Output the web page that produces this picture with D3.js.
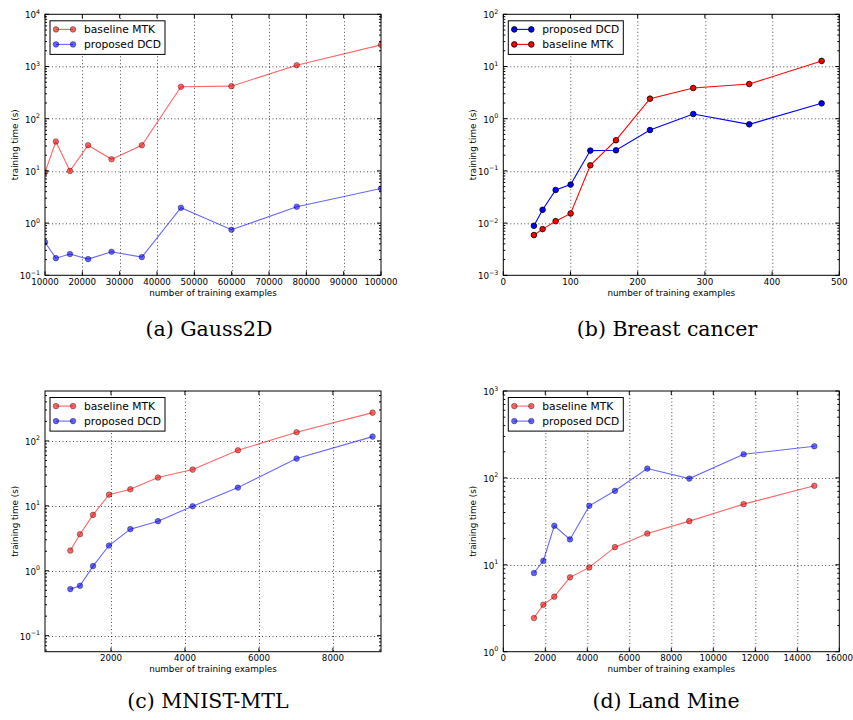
<!DOCTYPE html>
<html>
<head>
<meta charset="utf-8">
<script src="https://cdn.jsdelivr.net/npm/d3@7/dist/d3.min.js"></script>
<style>
  html, body { margin: 0; padding: 0; background: #fff; }
  svg { display: block; }
  text { font-family: "DejaVu Sans", sans-serif; fill: #000; }
  .caption { font-family: "DejaVu Serif", serif; }
</style>
</head>
<body>
<svg id="chart" width="853" height="720"></svg>
<script>
// ---------------- DATA ----------------
const gaussX   = [10000, 12915, 16681, 21544, 27826, 35938, 46416, 59948, 77426, 100000];
const gaussMTK = [9.4, 36.5, 10, 31, 16.7, 31, 410, 420, 1060, 2600];
const gaussDCD = [0.43, 0.213, 0.255, 0.204, 0.282, 0.223, 1.97, 0.745, 2.06, 4.6];

const breastX   = [45.6, 58.5, 77.9, 100.2, 129.5, 167.7, 218.3, 282.7, 366, 473.7];
const breastDCD = [0.0089, 0.018, 0.0432, 0.0547, 0.245, 0.248, 0.607, 1.23, 0.78, 1.97];
const breastMTK = [0.0059, 0.00767, 0.0109, 0.0153, 0.128, 0.387, 2.42, 3.87, 4.61, 12.8];

const mnistX   = [901, 1162, 1514, 1946, 2523, 3270, 4207, 5432, 7018, 9072];
const mnistMTK = [2.05, 3.66, 7.27, 14.9, 18.0, 27.3, 36.2, 71.8, 136, 273];
const mnistDCD = [0.522, 0.588, 1.18, 2.45, 4.38, 5.81, 9.88, 19.1, 53.5, 116.6];

const landX   = [1460, 1905, 2429, 3175, 4095, 5317, 6857, 8857, 11444, 14810];
const landMTK = [2.44, 3.47, 4.30, 7.17, 9.34, 15.97, 22.9, 31.8, 49.9, 81.1];
const landDCD = [8.04, 11.1, 28.1, 19.6, 47.7, 71.0, 128, 98.2, 187, 231];

const gaussXTicks  = [10000, 20000, 30000, 40000, 50000, 60000, 70000, 80000, 90000, 100000];
const breastXTicks = [0, 100, 200, 300, 400, 500];
const mnistXTicks  = [2000, 4000, 6000, 8000];
const landXTicks   = [0, 2000, 4000, 6000, 8000, 10000, 12000, 14000, 16000];

const gaussYExps  = [-1, 0, 1, 2, 3, 4];
const breastYExps = [-3, -2, -1, 0, 1, 2];
const mnistYExps  = [-1, 0, 1, 2];
const landYExps   = [0, 1, 2, 3];

const seriesNames = { mtk: "baseline MTK", dcd: "proposed DCD" };
const captions = ["(a) Gauss2D", "(b) Breast cancer", "(c) MNIST-MTL", "(d) Land Mine"];
const xLabel = "number of training examples";
const yLabel = "training time (s)";

// ---------------- LAYOUT ----------------
const panels = [
  { x0: 45, y0: 14.3, w: 336, h: 261, xDom: [10000, 100000], yDom: [0.1, 1e4],
    xTicks: gaussXTicks, yExps: gaussYExps, faded: true,
    series: [{ name: seriesNames.mtk, xs: gaussX, ys: gaussMTK, color: "red" },
             { name: seriesNames.dcd, xs: gaussX, ys: gaussDCD, color: "blue" }],
    caption: captions[0], capX: 209, capY: 336, legW: 115 },
  { x0: 503.3, y0: 14.3, w: 336, h: 261, xDom: [0, 500], yDom: [1e-3, 1e2],
    xTicks: breastXTicks, yExps: breastYExps, faded: false,
    series: [{ name: seriesNames.dcd, xs: breastX, ys: breastDCD, color: "blue" },
             { name: seriesNames.mtk, xs: breastX, ys: breastMTK, color: "red" }],
    caption: captions[1], capX: 667, capY: 336, legW: 115 },
  { x0: 45, y0: 391, w: 336, h: 260.7, xDom: [216, 9300], yDom: [0.0567, 588],
    xTicks: mnistXTicks, yExps: mnistYExps, faded: true,
    series: [{ name: seriesNames.mtk, xs: mnistX, ys: mnistMTK, color: "red" },
             { name: seriesNames.dcd, xs: mnistX, ys: mnistDCD, color: "blue" }],
    caption: captions[2], capX: 208, capY: 708, legW: 115 },
  { x0: 503.3, y0: 391, w: 336, h: 260.7, xDom: [0, 16000], yDom: [1, 1000],
    xTicks: landXTicks, yExps: landYExps, faded: true,
    series: [{ name: seriesNames.mtk, xs: landX, ys: landMTK, color: "red" },
             { name: seriesNames.dcd, xs: landX, ys: landDCD, color: "blue" }],
    caption: captions[3], capX: 666, capY: 708, legW: 115 }
];

const svg = d3.select("#chart");

panels.forEach((p, pi) => {
  const g = svg.append("g").attr("transform", `translate(${p.x0},${p.y0})`);
  const x = d3.scaleLinear().domain(p.xDom).range([0, p.w]);
  const y = d3.scaleLog().domain(p.yDom).range([p.h, 0]);

  const clipId = "clip" + pi;
  g.append("clipPath").attr("id", clipId)
    .append("rect").attr("width", p.w).attr("height", p.h);

  // grid (dotted)
  const grid = g.append("g");
  p.xTicks.forEach(t => {
    const xx = Math.round(x(t)) + 0.5;
    if (x(t) <= 0.5 || x(t) >= p.w - 0.5) return;
    grid.append("line").attr("x1", xx).attr("x2", xx).attr("y1", 0).attr("y2", p.h)
      .attr("stroke", "#000").attr("stroke-width", 1).attr("stroke-dasharray", "1,2.5").attr("opacity", 0.7);
  });
  p.yExps.forEach(e => {
    const yy = Math.round(y(Math.pow(10, e))) + 0.5;
    if (y(Math.pow(10, e)) <= 0.5 || y(Math.pow(10, e)) >= p.h - 0.5) return;
    grid.append("line").attr("x1", 0).attr("x2", p.w).attr("y1", yy).attr("y2", yy)
      .attr("stroke", "#000").attr("stroke-width", 1).attr("stroke-dasharray", "1,2.5").attr("opacity", 0.7);
  });

  // series
  const plot = g.append("g").attr("clip-path", `url(#${clipId})`);
  const line = d3.line().x(d => x(d[0])).y(d => y(d[1]));
  p.series.forEach(s => {
    const pts = s.xs.map((v, i) => [v, s.ys[i]]);
    const sg = plot.append("g");
    sg.append("path").datum(pts).attr("d", line).attr("fill", "none")
      .attr("stroke", s.color).attr("stroke-width", 1.1)
      .attr("stroke-opacity", p.faded ? 0.6 : 1);
    sg.selectAll("circle").data(pts).enter().append("circle")
      .attr("cx", d => x(d[0])).attr("cy", d => y(d[1])).attr("r", 2.8)
      .attr("fill", s.color).attr("fill-opacity", p.faded ? 0.6 : 1)
      .attr("stroke", "#000").attr("stroke-width", 0.8)
      .attr("stroke-opacity", p.faded ? 0.45 : 1);
  });

  // frame
  g.append("rect").attr("x", 0).attr("y", 0).attr("width", p.w).attr("height", p.h)
    .attr("fill", "none").attr("stroke", "#000").attr("stroke-width", 1);

  // x ticks (inward, bottom & top) + labels
  const tk = g.append("g");
  p.xTicks.forEach(t => {
    const xx = x(t);
    tk.append("line").attr("x1", xx).attr("x2", xx).attr("y1", p.h).attr("y2", p.h - 4).attr("stroke", "#000");
    tk.append("line").attr("x1", xx).attr("x2", xx).attr("y1", 0).attr("y2", 4).attr("stroke", "#000");
    tk.append("text").attr("x", xx).attr("y", p.h + 9.5).attr("text-anchor", "middle")
      .attr("font-size", 8.7).text(d3.format("d")(t));
  });

  // y major ticks + labels
  p.yExps.forEach(e => {
    const yy = y(Math.pow(10, e));
    tk.append("line").attr("x1", 0).attr("x2", 4).attr("y1", yy).attr("y2", yy).attr("stroke", "#000");
    tk.append("line").attr("x1", p.w).attr("x2", p.w - 4).attr("y1", yy).attr("y2", yy).attr("stroke", "#000");
    const t = tk.append("text").attr("x", -5).attr("y", yy + 4).attr("text-anchor", "end").attr("font-size", 8.7);
    t.append("tspan").text("10");
    t.append("tspan").attr("dy", -4.5).attr("font-size", 6.3).text(String(e).replace("-", "\u2212"));
  });

  // y minor ticks
  const lo = Math.floor(Math.log10(p.yDom[0])), hi = Math.ceil(Math.log10(p.yDom[1]));
  for (let e = lo; e < hi; e++) {
    for (let k = 2; k <= 9; k++) {
      const v = k * Math.pow(10, e);
      if (v < p.yDom[0] || v > p.yDom[1]) continue;
      const yy = y(v);
      tk.append("line").attr("x1", 0).attr("x2", 2).attr("y1", yy).attr("y2", yy).attr("stroke", "#000");
      tk.append("line").attr("x1", p.w).attr("x2", p.w - 2).attr("y1", yy).attr("y2", yy).attr("stroke", "#000");
    }
  }

  // axis labels
  g.append("text").attr("x", p.w / 2).attr("y", p.h + 20.5).attr("text-anchor", "middle")
    .attr("font-size", 8.8).text(xLabel);
  g.append("text").attr("transform", `translate(-27,${p.h / 2}) rotate(-90)`)
    .attr("text-anchor", "middle").attr("font-size", 8.8).text(yLabel);

  // legend
  const lg = g.append("g").attr("transform", "translate(5,6.5)");
  lg.append("rect").attr("x", 0).attr("y", 0).attr("width", p.legW).attr("height", 33.6)
    .attr("fill", "#fff").attr("stroke", "#000").attr("stroke-width", 1);
  p.series.forEach((s, i) => {
    const ry = 8.6 + i * 15;
    lg.append("line").attr("x1", 6).attr("x2", 23).attr("y1", ry).attr("y2", ry)
      .attr("stroke", s.color).attr("stroke-width", 1.1).attr("stroke-opacity", p.faded ? 0.6 : 1);
    [6, 23].forEach(cx => lg.append("circle").attr("cx", cx).attr("cy", ry).attr("r", 2.8)
      .attr("fill", s.color).attr("fill-opacity", p.faded ? 0.6 : 1)
      .attr("stroke", "#000").attr("stroke-width", 0.8).attr("stroke-opacity", p.faded ? 0.45 : 1));
    lg.append("text").attr("x", 34).attr("y", ry + 3.8).attr("font-size", 10.7).text(s.name);
  });

  // caption
  svg.append("text").attr("class", "caption").attr("x", p.capX).attr("y", p.capY)
    .attr("text-anchor", "middle").attr("font-size", 20.5).attr("font-weight", 300).text(p.caption);
});
</script>
</body>
</html>
